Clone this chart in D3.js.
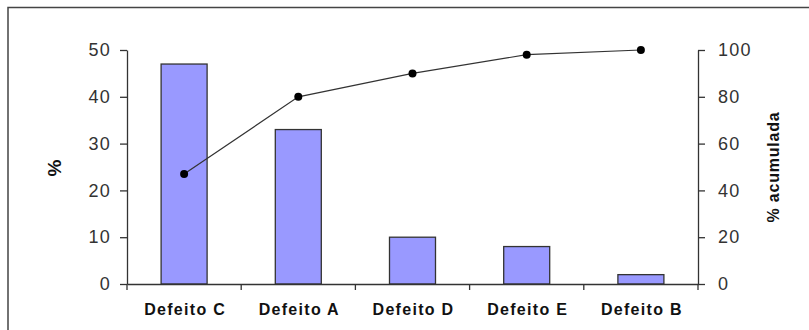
<!DOCTYPE html>
<html><head><meta charset="utf-8">
<script src="https://cdn.jsdelivr.net/npm/d3@7"></script>
<style>
body{margin:0;background:#fff;}
svg{display:block;font-family:Arial,"Liberation Sans",sans-serif;}
</style></head>
<body><div id="chart"></div>
<script>
const categories=['Defeito C','Defeito A','Defeito D','Defeito E','Defeito B'];
const percent=[47,33,10,8,2];
const cumulative=[47,80,90,98,100];
const leftTicks=[0,10,20,30,40,50];
const rightTicks=[0,20,40,60,80,100];

const W=809,H=330;
const svg=d3.select('#chart').append('svg').attr('width',W).attr('height',H);
svg.append('rect').attr('x',8).attr('y',7.5).attr('width',W+5).attr('height',H).attr('fill','none').attr('stroke','#444').attr('stroke-width',1.5);

const pLeft=127,pRight=698,pTop=50,pBottom=284;
const xb=d3.scaleBand().domain(categories).range([pLeft,pRight]);
const y=d3.scaleLinear().domain([0,50]).range([pBottom,pTop]);
const y2=d3.scaleLinear().domain([0,100]).range([pBottom,pTop]);

svg.selectAll('rect.bar').data(percent).enter().append('rect').attr('class','bar')
  .attr('x',(d,i)=>xb(categories[i])+xb.bandwidth()/2-23).attr('width',46)
  .attr('y',d=>y(d)).attr('height',d=>pBottom-y(d))
  .attr('fill','#9999ff').attr('stroke','#333').attr('stroke-width',1.3);

const ax=svg.append('g').attr('transform',`translate(0,${pBottom})`)
  .call(d3.axisBottom(xb).tickSize(0).tickPadding(0));
ax.selectAll('.tick').remove();
ax.select('.domain').attr('stroke','#333').attr('stroke-width',1.3);
ax.selectAll('line.bt').data(d3.range(categories.length+1)).enter().append('line').attr('class','bt')
  .attr('x1',i=>pLeft+i*xb.bandwidth()).attr('x2',i=>pLeft+i*xb.bandwidth()).attr('y1',0).attr('y2',6).attr('stroke','#333').attr('stroke-width',1.3);
svg.append('g').selectAll('text').data(categories).enter().append('text')
  .attr('x',d=>xb(d)+xb.bandwidth()/2+1).attr('y',315).attr('text-anchor','middle')
  .attr('font-size',16).attr('font-weight','bold').attr('letter-spacing',1.3).attr('fill','#111').text(d=>d);

const ay=svg.append('g').attr('transform',`translate(${pLeft},0)`)
  .call(d3.axisLeft(y).tickValues(leftTicks).tickSize(7).tickSizeOuter(0).tickPadding(9));
const ay2=svg.append('g').attr('transform',`translate(${pRight},0)`)
  .call(d3.axisRight(y2).tickValues(rightTicks).tickSize(7).tickSizeOuter(0).tickPadding(13));
[ay,ay2].forEach(g=>{
  g.selectAll('path,line').attr('stroke','#333').attr('stroke-width',1.3);
  g.selectAll('text').attr('font-size',18).attr('letter-spacing',1.2).attr('fill','#333').attr('font-family','Arial,"Liberation Sans",sans-serif');
});

const line=d3.line().x((d,i)=>xb(categories[i])+xb.bandwidth()/2).y(d=>y2(d));
svg.append('path').attr('d',line(cumulative)).attr('fill','none').attr('stroke','#333').attr('stroke-width',1.2);
svg.selectAll('circle').data(cumulative).enter().append('circle')
  .attr('cx',(d,i)=>xb(categories[i])+xb.bandwidth()/2).attr('cy',d=>y2(d)).attr('r',4).attr('fill','#000');

svg.append('text').attr('transform',`translate(61,168) rotate(-90)`).attr('text-anchor','middle')
  .attr('font-size',19).attr('font-weight','bold').attr('fill','#111').text('%');
svg.append('text').attr('transform',`translate(779,167) rotate(-90)`).attr('text-anchor','middle')
  .attr('font-size',16).attr('font-weight','bold').attr('letter-spacing',0.8).attr('fill','#111').text('% acumulada');
</script></body></html>
